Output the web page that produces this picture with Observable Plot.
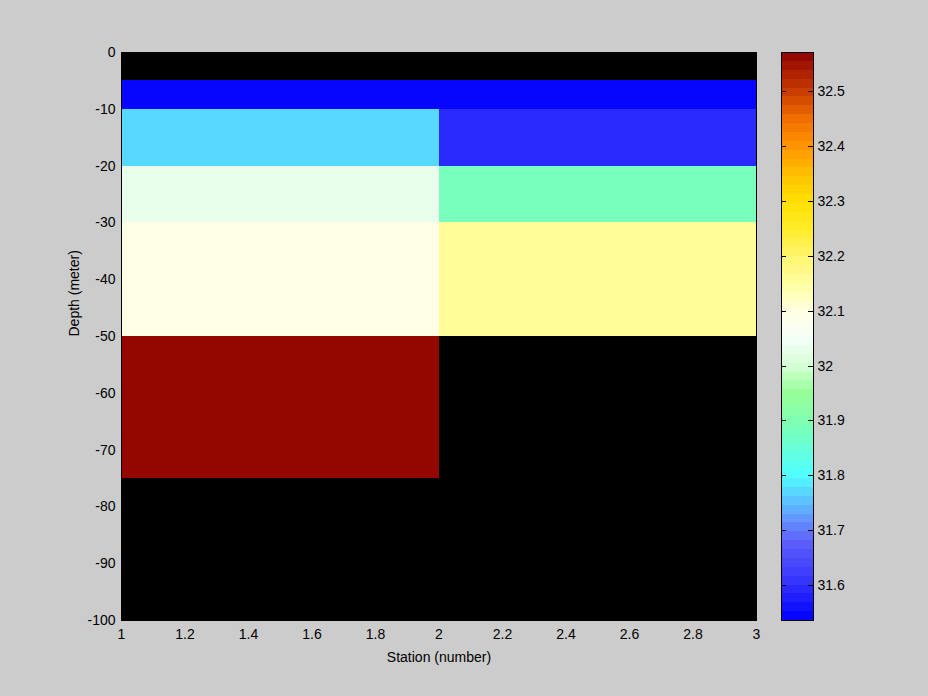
<!DOCTYPE html>
<html><head><meta charset="utf-8">
<script src="https://cdn.jsdelivr.net/npm/d3@7"></script>
<script src="https://cdn.jsdelivr.net/npm/@observablehq/plot@0.6"></script>
<style>
html,body{margin:0;padding:0;background:#cccccc;}
#fig{position:relative;width:928px;height:696px;background:#cccccc;overflow:hidden;}
#fig svg{position:absolute;left:0;top:0;background:transparent !important;max-width:none !important;}
</style></head><body><div id="fig"></div>
<script>
// Grid edges
const stationEdges = [1, 2, 3];
const depthEdges = [0, -5, -10, -20, -30, -50, -75, -100];
// Salinity per depth layer (top to bottom), per station cell; null = no data (black)
const salinity = [
  [null, null],
  [31.54, 31.54],
  [31.765, 31.60],
  [32.03, 31.885],
  [32.10, 32.16],
  [32.57, null],
  [null, null]
];
// Tick labels
const xTicks = [1, 1.2, 1.4, 1.6, 1.8, 2, 2.2, 2.4, 2.6, 2.8, 3];
const yTicks = [0, -10, -20, -30, -40, -50, -60, -70, -80, -90, -100];
const cbTicks = [31.6, 31.7, 31.8, 31.9, 32, 32.1, 32.2, 32.3, 32.4, 32.5];
// Color limits
const cMin = 31.536, cMax = 32.572;
// Colormap anchors
const cmapValues = [31.536, 31.6, 31.68, 31.72, 31.8, 31.9, 31.95, 32.0, 32.05, 32.1, 32.15, 32.2, 32.25, 32.3, 32.35, 32.4, 32.45, 32.5, 32.55, 32.572];
const cmapColors = ["#0000ff", "#3030ff", "#6060fa", "#6496ff", "#50ffff", "#80ffb0", "#98ff98", "#d4ffd4", "#f5fffa", "#ffffe1", "#ffffa0", "#fff56e", "#ffeb28", "#ffe000", "#ffbe00", "#ff9600", "#f06e00", "#c83c00", "#a01400", "#8c0000"];
const nColors = 64;

const cmap = d3.scaleLinear().domain(cmapValues).range(cmapColors).interpolate(d3.interpolateRgb).clamp(true);
const step = (cMax - cMin) / nColors;
const bins = d3.range(nColors).map(i => ({lo: cMin + i * step, hi: cMin + (i + 1) * step, mid: cMin + (i + 0.5) * step}));
const colors64 = bins.map(b => cmap(b.mid));

const cells = [];
salinity.forEach((row, r) => row.forEach((v, c) => {
  cells.push({x1: stationEdges[c], x2: stationEdges[c + 1], y1: depthEdges[r], y2: depthEdges[r + 1], v});
}));

const fmt = d => String(+(+d).toFixed(1));
const colorOpts = {type: "quantize", domain: [cMin, cMax], range: colors64};
const font = {background: "transparent", fontFamily: "'Liberation Sans', Arial, Helvetica, sans-serif", fontSize: "14px", color: "black"};

const main = Plot.plot({
  width: 928, height: 696,
  marginLeft: 121, marginRight: 172, marginTop: 52, marginBottom: 76,
  style: font,
  x: {domain: [1, 3], label: null},
  y: {domain: [-100, 0], label: null},
  color: colorOpts,
  marks: [
    Plot.frame({fill: "black"}),
    Plot.rect(cells.filter(d => d.v != null), {x1: "x1", x2: "x2", y1: "y1", y2: "y2", fill: "v", shapeRendering: "crispEdges"}),
    Plot.frame({stroke: "black", shapeRendering: "crispEdges"}),
    Plot.axisX({ticks: xTicks, tickSize: 0, tickPadding: 9, tickFormat: fmt, label: null, fontSize: 14}),
    Plot.axisY({ticks: yTicks, tickSize: 0, tickPadding: 6, tickFormat: fmt, label: null, fontSize: 14}),
    Plot.text(["Station (number)"], {frameAnchor: "bottom", dy: 37, text: d => d, lineAnchor: "middle", fontSize: 14, fill: "black"}),
    Plot.text(["Depth (meter)"], {frameAnchor: "left", dx: -47, text: d => d, rotate: -90, lineAnchor: "middle", fontSize: 14, fill: "black"})
  ]
});

const cbar = Plot.plot({
  width: 928, height: 696,
  marginLeft: 781, marginRight: 115, marginTop: 52, marginBottom: 76,
  style: font,
  x: {domain: [0, 1], axis: null},
  y: {domain: [cMin, cMax], axis: null},
  color: colorOpts,
  marks: [
    Plot.rect(bins, {x1: 0, x2: 1, y1: "lo", y2: "hi", fill: "mid", shapeRendering: "crispEdges"}),
    Plot.frame({stroke: "black", shapeRendering: "crispEdges"}),
    Plot.tickY(cbTicks, {y: d => d, stroke: "black", insetRight: 27, shapeRendering: "crispEdges"}),
    Plot.tickY(cbTicks, {y: d => d, stroke: "black", insetLeft: 27, shapeRendering: "crispEdges"}),
    Plot.axisY({anchor: "right", ticks: cbTicks, tickSize: 0, tickPadding: 4, tickFormat: fmt, label: null, fontSize: 14})
  ]
});

const fig = document.getElementById("fig");
fig.appendChild(main);
fig.appendChild(cbar);
</script>
</body></html>
